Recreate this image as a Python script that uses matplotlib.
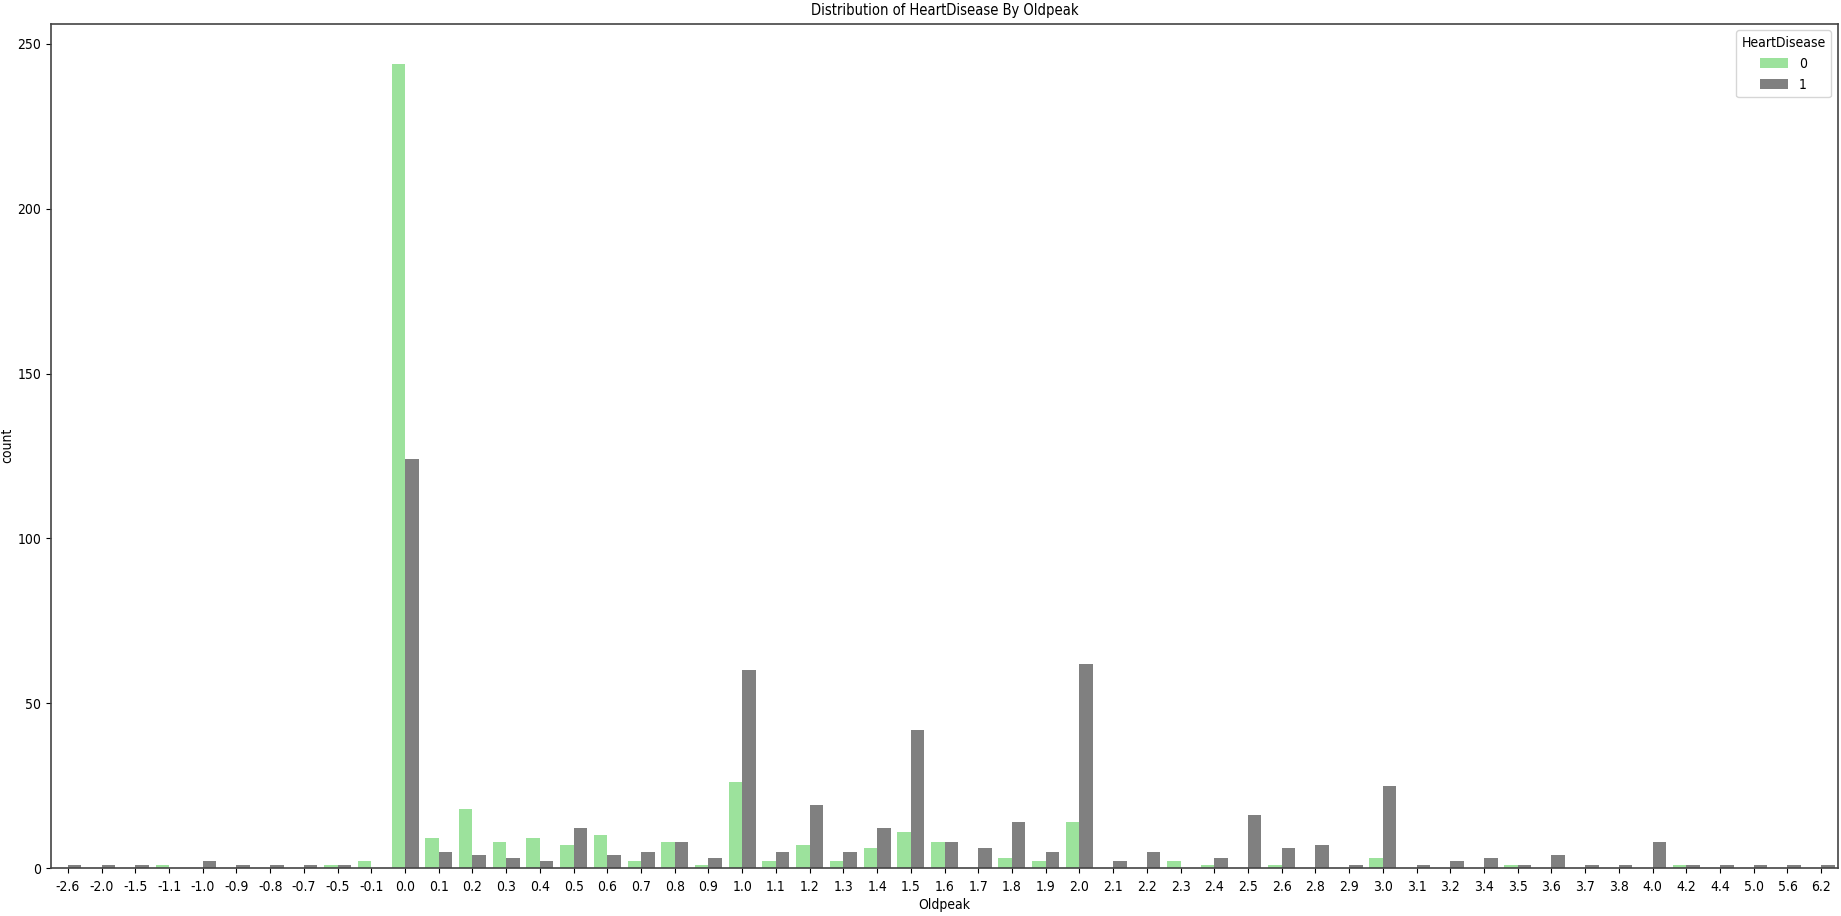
import numpy as np
import matplotlib
matplotlib.use("Agg")
import matplotlib.pyplot as plt

plt.rcParams['font.family'] = ['DejaVu Sans']
plt.rcParams['font.stretch'] = 'condensed'

# Oldpeak categories and counts per HeartDisease class
oldpeak = ['-2.6', '-2.0', '-1.5', '-1.1', '-1.0', '-0.9', '-0.8', '-0.7', '-0.5', '-0.1',
           '0.0', '0.1', '0.2', '0.3', '0.4', '0.5', '0.6', '0.7', '0.8', '0.9',
           '1.0', '1.1', '1.2', '1.3', '1.4', '1.5', '1.6', '1.7', '1.8', '1.9',
           '2.0', '2.1', '2.2', '2.3', '2.4', '2.5', '2.6', '2.8', '2.9', '3.0',
           '3.1', '3.2', '3.4', '3.5', '3.6', '3.7', '3.8', '4.0', '4.2', '4.4',
           '5.0', '5.6', '6.2']
hd0 = [0, 0, 0, 1, 0, 0, 0, 0, 1, 2,
       244, 9, 18, 8, 9, 7, 10, 2, 8, 1,
       26, 2, 7, 2, 6, 11, 8, 0, 3, 2,
       14, 0, 0, 2, 1, 0, 1, 0, 0, 3,
       0, 0, 0, 1, 0, 0, 0, 0, 1, 0,
       0, 0, 0]
hd1 = [1, 1, 1, 0, 2, 1, 1, 1, 1, 0,
       124, 5, 4, 3, 2, 12, 4, 5, 8, 3,
       60, 5, 19, 5, 12, 42, 8, 6, 14, 5,
       62, 2, 5, 0, 3, 16, 6, 7, 1, 25,
       1, 2, 3, 1, 4, 1, 1, 8, 1, 1,
       1, 1, 1]
hue_labels = ['0', '1']
colors = ['#9ce29c', '#808080']

x = np.arange(len(oldpeak))

fig = plt.figure(figsize=(18.41, 9.16), dpi=100)
ax = fig.add_axes([0.0277, 0.0524, 0.9707, 0.9219])

ax.bar(x - 0.2, hd0, width=0.4, color=colors[0], label=hue_labels[0])
ax.bar(x + 0.2, hd1, width=0.4, color=colors[1], label=hue_labels[1])

ax.set_xticks(x)
ax.set_xticklabels(oldpeak)
ax.set_xlim(-0.5, len(oldpeak) - 0.5)
ax.set_ylim(0, max(hd0) * 1.05)
ax.set_yticks([0, 50, 100, 150, 200, 250])
ax.tick_params(labelsize=10)
ax.tick_params(axis='x', pad=5)
for s in ax.spines.values():
    s.set_color('#444444')
    s.set_linewidth(1.2)

ax.set_xlabel('Oldpeak', fontsize=10, labelpad=3)
ax.set_ylabel('count', fontsize=10, labelpad=2)
ax.set_title('Distribution of HeartDisease By Oldpeak', fontsize=10.5, pad=6)
ax.legend(title='HeartDisease', loc='upper right', fontsize=10, title_fontsize=10)

fig.savefig('out.png', dpi=100)
